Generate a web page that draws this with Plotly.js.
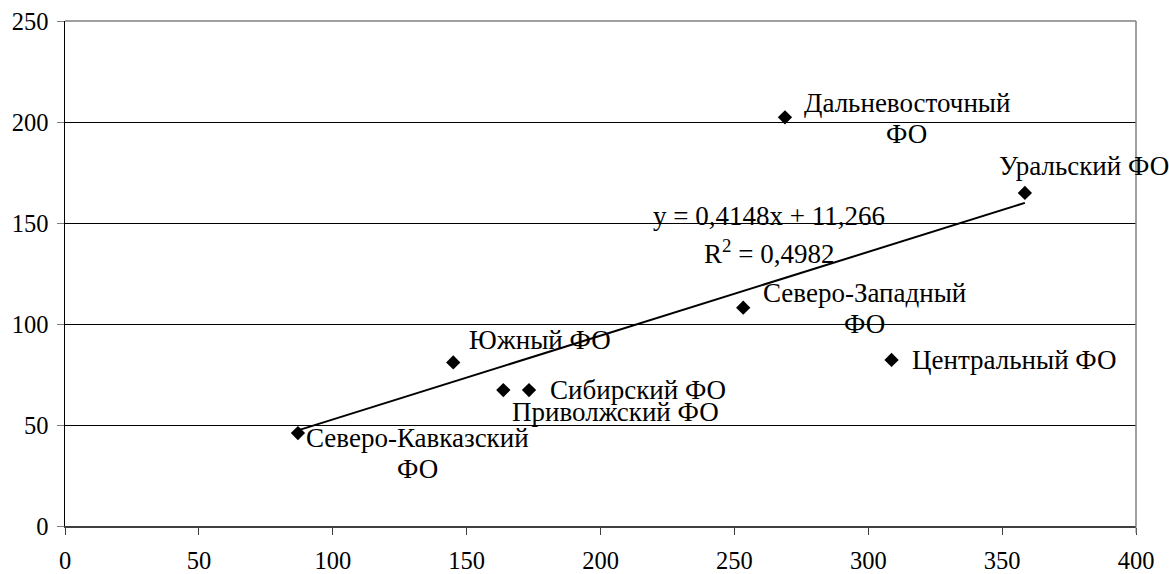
<!DOCTYPE html>
<html>
<head>
<meta charset="utf-8">
<script src="https://cdn.plot.ly/plotly-3.0.1.min.js"></script>
<style>html,body{margin:0;padding:0;background:#fff;}#chart{width:1169px;height:574px;}</style>
</head>
<body>
<div id="chart"></div>
<script>
// Data
const regions = ["Северо-Кавказский ФО", "Южный ФО", "Приволжский ФО", "Сибирский ФО",
                 "Северо-Западный ФО", "Дальневосточный ФО", "Центральный ФО", "Уральский ФО"];
const xValues = [87, 145, 163.7, 173.3, 253.3, 268.9, 308.7, 358.5];
const yValues = [46, 81, 67.3, 67.3, 108.1, 202.3, 82.2, 164.9];
const trendSlope = 0.4148;
const trendIntercept = 11.266;
const equationLines = ["y = 0,4148x + 11,266", "R<sup>2</sup> = 0,4982"];
const xTicks = [0, 50, 100, 150, 200, 250, 300, 350, 400];
const yTicks = [0, 50, 100, 150, 200, 250];

// Label styling (line splits and pixel offsets relative to the marker)
const labelLines = [
  ["Северо-Кавказский", "ФО"],
  ["Южный ФО"],
  ["Приволжский ФО"],
  ["Сибирский ФО"],
  ["Северо-Западный", "ФО"],
  ["Дальневосточный", "ФО"],
  ["Центральный ФО"],
  ["Уральский ФО"]
];
const labelStyle = [
  {dx: 120, dy: -5, anchor: "center"},
  {dx: 14, dy: 22, anchor: "left"},
  {dx: 7, dy: -22, anchor: "left"},
  {dx: 19, dy: 0, anchor: "left"},
  {dx: 121, dy: 15, anchor: "center"},
  {dx: 122, dy: 14, anchor: "center"},
  {dx: 18, dy: 0, anchor: "left"},
  {dx: -28, dy: 27, anchor: "left"}
];
const lineGap = 31;

const FONT = "Liberation Serif, Times New Roman, serif";
const LABEL_SIZE = 27;
const TICK_SIZE = 24.5;

const xMin = Math.min(...xValues), xMax = Math.max(...xValues);
const trendX = [xMin, xMax];
const trendY = trendX.map(v => trendSlope * v + trendIntercept);

const traces = [
  {
    x: trendX, y: trendY, type: "scatter", mode: "lines",
    line: {color: "#000", width: 2}, hoverinfo: "skip", showlegend: false
  },
  {
    x: xValues, y: yValues, type: "scatter", mode: "markers",
    marker: {symbol: "diamond", size: 11, color: "#000"},
    text: regions, showlegend: false
  }
];

const annotations = [];
regions.forEach((r, i) => {
  const st = labelStyle[i];
  labelLines[i].forEach((ln, j) => {
    annotations.push({
      x: xValues[i], y: yValues[i], xref: "x", yref: "y",
      text: ln, showarrow: false,
      xanchor: st.anchor, yanchor: "middle",
      xshift: st.dx, yshift: st.dy - j * lineGap,
      font: {family: FONT, size: LABEL_SIZE, color: "#000"}
    });
  });
});
equationLines.forEach((ln, j) => {
  annotations.push({
    x: (769 - 65) / 1071, y: 1 - (216 + j * 36 - 21) / 505,
    xref: "paper", yref: "paper", text: ln, showarrow: false,
    xanchor: "center", yanchor: "middle",
    font: {family: FONT, size: LABEL_SIZE, color: "#000"}
  });
});

const layout = {
  width: 1169, height: 574,
  margin: {l: 65, r: 33, t: 21, b: 48, pad: 0},
  paper_bgcolor: "#fff", plot_bgcolor: "#fff",
  showlegend: false,
  font: {family: FONT, size: TICK_SIZE, color: "#000"},
  xaxis: {
    range: [0, 400], tickvals: xTicks, ticktext: xTicks.map(String),
    showgrid: false, zeroline: false,
    showline: true, linecolor: "#404040", linewidth: 1.5,
    ticks: "outside", ticklen: 7, tickcolor: "#404040", tickwidth: 1,
    ticklabelstandoff: 5,
    tickfont: {family: FONT, size: TICK_SIZE, color: "#000"},
    fixedrange: true
  },
  yaxis: {
    range: [0, 250], tickvals: yTicks, ticktext: yTicks.map(String),
    showgrid: true, gridcolor: "#000", gridwidth: 1, zeroline: false,
    showline: true, linecolor: "#000", linewidth: 1.5,
    ticks: "outside", ticklen: 7, tickcolor: "#808080", tickwidth: 1,
    ticklabelstandoff: 3,
    tickfont: {family: FONT, size: TICK_SIZE, color: "#000"},
    fixedrange: true
  },
  shapes: [
    {type: "line", xref: "paper", yref: "paper", x0: 0, x1: 1, y0: 1, y1: 1,
     line: {color: "#808080", width: 1.5}, layer: "above"},
    {type: "line", xref: "paper", yref: "paper", x0: 1, x1: 1, y0: 0, y1: 1,
     line: {color: "#808080", width: 1.5}, layer: "above"},
    {type: "line", xref: "paper", yref: "paper", x0: 1, x1: 1, y0: 0, y1: -0.014,
     line: {color: "#808080", width: 1}, layer: "above"}
  ],
  annotations: annotations
};

Plotly.newPlot("chart", traces, layout, {displayModeBar: false, staticPlot: true});
</script>
</body>
</html>
